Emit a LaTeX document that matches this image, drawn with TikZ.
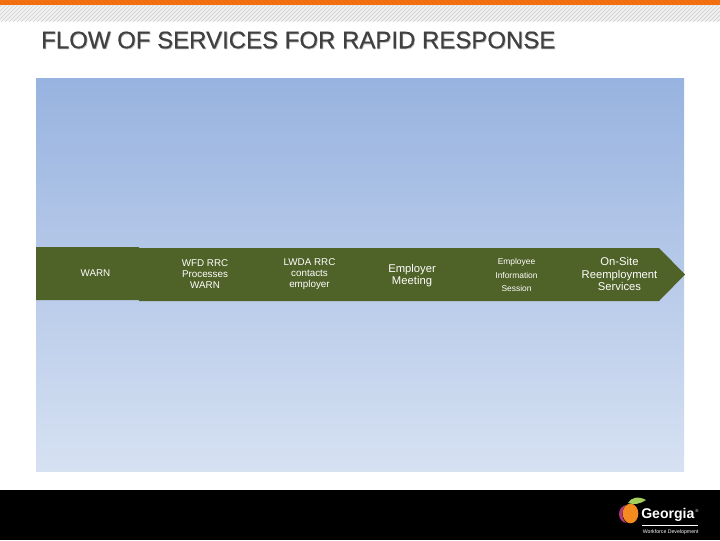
\documentclass[tikz,border=0pt]{standalone}
\usepackage{fontspec}
\setmainfont{Liberation Sans}
\newfontfamily\titlefont[FakeBold=0.5]{Liberation Sans}
\usetikzlibrary{positioning, calc}

\definecolor{bandgreen}{HTML}{4F6228}
\definecolor{paneltop}{HTML}{98B3E0}
\definecolor{panelbot}{HTML}{D6E1F2}
\definecolor{barorange}{HTML}{F26F0F}
\definecolor{titlegrey}{HTML}{404040}
\definecolor{peach}{HTML}{F58A1F}
\definecolor{leafgreen}{HTML}{A6CE5A}
\definecolor{plum}{HTML}{B03A78}

\tikzset{
  steptext/.style={text=white, align=center, font=\fontsize{7}{7.8}\selectfont, inner sep=0pt},
  wide/.style={steptext, font=\fontsize{8}{8.6}\selectfont}
}

\begin{document}
\begin{tikzpicture}[x=0.025cm, y=-0.025cm]
\useasboundingbox (0,0) rectangle (720,540);
\fill[white] (0,0) rectangle (720,540);

% Top bar and hatching
\begin{scope}
\clip (0,5) rectangle (720,21);
\fill[gray!10] (0,5) rectangle (720,21);
\foreach \i in {0,4,...,760}
  \draw[gray!38, line width=0.5pt] (\i,3) -- (\i-20,23);
\end{scope}
\fill[barorange] (0,0) rectangle (720,5);

% Title
\node[titlegrey!35, anchor=west, inner sep=0pt, font=\titlefont\fontsize{17.06}{20}\selectfont] (titleshadow) at (41.7,40.8) {FLOW OF SERVICES FOR RAPID RESPONSE};
\node[titlegrey, anchor=west, inner sep=0pt, font=\titlefont\fontsize{17.06}{20}\selectfont] (title) at (41,40) {FLOW OF SERVICES FOR RAPID RESPONSE};

% Panel
\shade[top color=paneltop, bottom color=panelbot] (36,78) rectangle (684,471);

% Band
\fill[bandgreen] (36,247) -- (139,247) -- (139,248) -- (659,248) -- (685,274.5) -- (659,301) -- (139,301) -- (139,300) -- (36,300) -- cycle;

% Steps
\node[steptext] (warn) at (95.5,273.5) {WARN};
\node[steptext] (wfd) at (205,274.5) {WFD RRC\\Processes\\WARN};
\node[steptext] (lwda) at (309.5,274.5) {LWDA RRC\\contacts\\employer};
\node[wide] (meeting) at (412,275.2) {Employer\\Meeting};
\node[steptext, font=\fontsize{6}{9.6}\selectfont] (session) at (516.5,275) {Employee\\Information\\Session};
\node[wide] (onsite) at (619.5,274) {On-Site\\Reemployment\\Services};

% Footer
\fill[black] (0,490) rectangle (720,540);

% Logo
\fill[plum] (627,514) ellipse (8 and 9);
\fill[black] (631,514) ellipse (8.5 and 10.5);
\fill[peach] (630.5,513.5) ellipse (7.8 and 9.8);
\fill[leafgreen] (628,503) .. controls (631,497) and (639,496) .. (646,500) .. controls (640,504) and (634,505) .. (628,503) -- cycle;
\node[white, anchor=west, inner sep=0pt, font=\bfseries\fontsize{10}{12}\selectfont] (georgia) at (641,514.5) {Georgia};
\node[white, anchor=west, inner sep=0pt, font=\fontsize{3}{3}\selectfont] (regmark) at (695,511) {®};
\coordinate (ruleleft) at (642,525.5);
\coordinate (ruleright) at (698,525.5);
\draw[white, line width=0.35pt] (ruleleft) -- (ruleright);
\node[white, anchor=west, inner sep=0pt, font=\fontsize{3.7}{4}\selectfont] (workforce) at (642.5,532) {Workforce Development};
\end{tikzpicture}
\end{document}
